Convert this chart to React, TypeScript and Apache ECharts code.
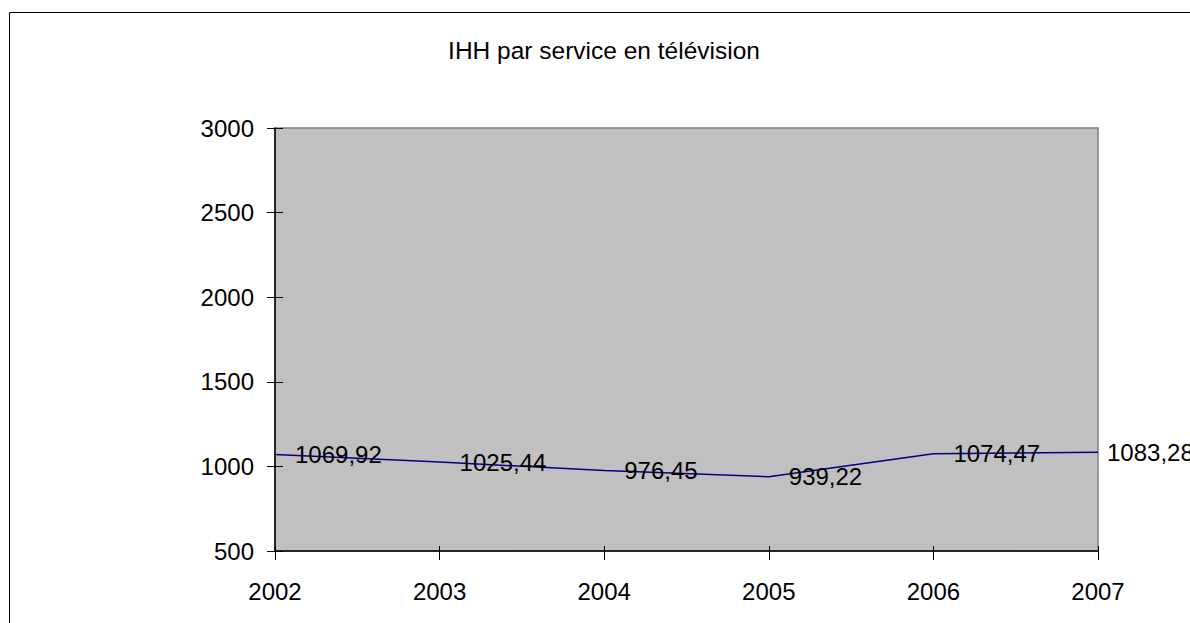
import React, { useEffect, useRef } from "react";
import * as echarts from "echarts";

// IHH (indice Herfindahl-Hirschman) par service en télévision
const years = ["2002", "2003", "2004", "2005", "2006", "2007"];
const ihhValues = [1069.92, 1025.44, 976.45, 939.22, 1074.47, 1083.28];
const yTicks = { min: 500, max: 3000, interval: 500 };
const chartTitle = "IHH par service en télévision";

const FONT = "'Liberation Sans', Arial, sans-serif";

export default function App() {
  const ref = useRef<HTMLDivElement>(null);

  useEffect(() => {
    if (!ref.current) return;
    const chart = echarts.init(ref.current, null, { renderer: "svg" });
    const lastIndex = ihhValues.length - 1;
    chart.setOption({
      animation: false,
      backgroundColor: "#ffffff",
      textStyle: { fontFamily: FONT },
      title: {
        text: chartTitle,
        left: 599,
        top: 33,
        textAlign: "center",
        textStyle: { fontFamily: FONT, fontSize: 24.5, fontWeight: "normal", color: "#000" },
      },
      graphic: [
        {
          type: "rect",
          shape: { x: 9.5, y: 12.5, width: 1300, height: 700 },
          style: { fill: "none", stroke: "#000", lineWidth: 1 },
          silent: true,
        },
      ],
      grid: {
        left: 275,
        top: 128,
        right: 92,
        bottom: 72,
        show: true,
        backgroundColor: "#c0c0c0",
        borderColor: "#808080",
        borderWidth: 1.5,
      },
      xAxis: [
        {
          type: "category",
          data: years,
          boundaryGap: false,
          axisLine: { show: true, lineStyle: { color: "#000", width: 1.5 } },
          axisTick: { show: true, inside: false, length: 9, lineStyle: { color: "#000" } },
          axisLabel: { color: "#000", fontSize: 24, fontFamily: FONT, margin: 28 },
          splitLine: { show: false },
        },
        {
          type: "category",
          data: years,
          boundaryGap: false,
          position: "bottom",
          axisLine: { show: false },
          axisTick: { show: true, inside: true, length: 5, lineStyle: { color: "#000" } },
          axisLabel: { show: false },
          splitLine: { show: false },
        },
      ],
      yAxis: [
        {
          type: "value",
          min: yTicks.min,
          max: yTicks.max,
          interval: yTicks.interval,
          axisLine: { show: true, lineStyle: { color: "#000", width: 1.5 } },
          axisTick: { show: true, inside: false, length: 8, lineStyle: { color: "#000" } },
          axisLabel: {
            color: "#000",
            fontSize: 24,
            fontFamily: FONT,
            margin: 21,
            formatter: (v: number) => String(v),
          },
          splitLine: { show: false },
        },
        {
          type: "value",
          min: yTicks.min,
          max: yTicks.max,
          interval: yTicks.interval,
          position: "left",
          axisLine: { show: false },
          axisTick: { show: true, inside: true, length: 8, lineStyle: { color: "#000" } },
          axisLabel: { show: false },
          splitLine: { show: false },
        },
      ],
      series: [
        {
          type: "line",
          data: ihhValues.map((v, i) =>
            i === lastIndex ? { value: v, label: { distance: 9 } } : v
          ),
          xAxisIndex: 0,
          yAxisIndex: 0,
          showSymbol: true,
          symbol: "circle",
          symbolSize: 0,
          lineStyle: { color: "#000080", width: 1.5 },
          itemStyle: { color: "#000080" },
          label: {
            show: true,
            position: "right",
            distance: 20,
            color: "#000",
            fontSize: 24,
            fontFamily: FONT,
            formatter: (p: any) => Number(p.value).toFixed(2).replace(".", ","),
          },
        },
      ],
    });
    return () => chart.dispose();
  }, []);

  return (
    <div
      ref={ref}
      style={{ position: "absolute", left: 0, top: 0, width: 1190, height: 623 }}
    />
  );
}
